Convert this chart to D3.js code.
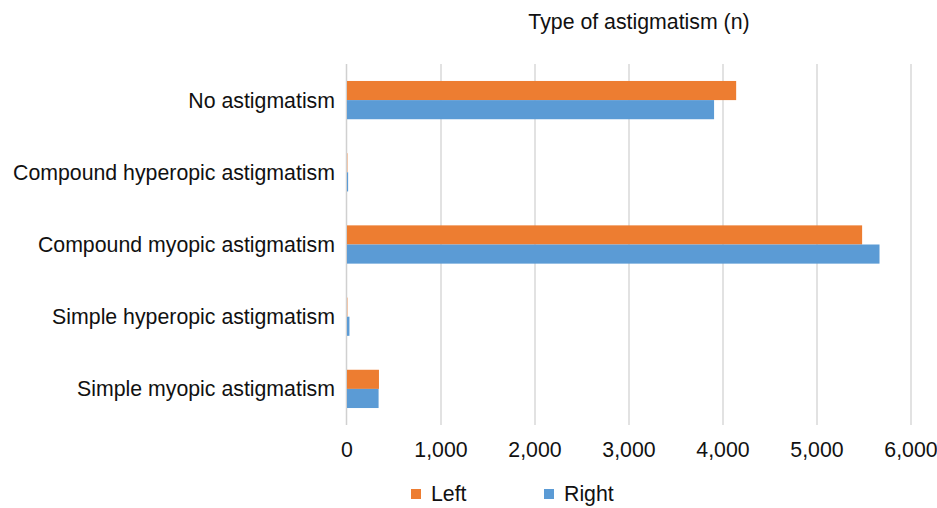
<!DOCTYPE html>
<html>
<head>
<meta charset="utf-8">
<script src="https://cdn.jsdelivr.net/npm/d3@7"></script>
<style>
  html, body { margin: 0; padding: 0; background: #fff; }
  svg { display: block; font-family: "Liberation Sans", Arial, sans-serif; }
</style>
</head>
<body>
<svg id="chart" width="937" height="508"></svg>
<script>
const categories = [
  "No astigmatism",
  "Compound hyperopic astigmatism",
  "Compound myopic astigmatism",
  "Simple hyperopic astigmatism",
  "Simple myopic astigmatism"
];
const seriesNames = ["Left", "Right"];
const leftValues  = [4140, 4, 5480, 4, 340];
const rightValues = [3905, 12, 5665, 26, 336];
const xTicks = [0, 1000, 2000, 3000, 4000, 5000, 6000];
const title = "Type of astigmatism (n)";
const colors = { Left: "#ED7D31", Right: "#5B9BD5" };

const svg = d3.select("#chart");
const x = d3.scaleLinear().domain([0, 6000]).range([347, 911]);
const y = d3.scaleBand().domain(categories).range([64, 425]).paddingInner(0.47).paddingOuter(0.235);
const inner = d3.scaleBand().domain(seriesNames).range([0, y.bandwidth()]);
const fs = 21.3;
const txt = "#111";

// gridlines
svg.append("g").selectAll("line").data(xTicks.slice(1)).join("line")
  .attr("x1", d => x(d)).attr("x2", d => x(d))
  .attr("y1", 64).attr("y2", 425)
  .attr("stroke", "#D9D9D9").attr("stroke-width", 1.5);

// vertical axis line
svg.append("line")
  .attr("x1", x(0) - 0.5).attr("x2", x(0) - 0.5)
  .attr("y1", 64).attr("y2", 425)
  .attr("stroke", "#D0D0D0").attr("stroke-width", 1.5);

// bars
const data = categories.map((c, i) => ({ cat: c, Left: leftValues[i], Right: rightValues[i] }));
const groups = svg.append("g").selectAll("g").data(data).join("g")
  .attr("transform", d => `translate(0,${y(d.cat)})`);
groups.selectAll("rect").data(d => seriesNames.map(s => ({ s, v: d[s] }))).join("rect")
  .attr("x", x(0))
  .attr("y", d => inner(d.s))
  .attr("width", d => Math.max(0, x(d.v) - x(0)))
  .attr("height", inner.bandwidth())
  .attr("fill", d => colors[d.s]);

// category labels
svg.append("g").selectAll("text").data(categories).join("text")
  .attr("x", 335)
  .attr("y", d => y(d) + y.bandwidth() / 2)
  .attr("dy", "0.35em")
  .attr("text-anchor", "end")
  .attr("font-size", fs)
  .attr("fill", txt)
  .text(d => d);

// x tick labels
svg.append("g").selectAll("text").data(xTicks).join("text")
  .attr("x", d => x(d))
  .attr("y", 457)
  .attr("text-anchor", "middle")
  .attr("font-size", fs)
  .attr("fill", txt)
  .text(d => d3.format(",")(d));

// title
svg.append("text")
  .attr("x", 639).attr("y", 29)
  .attr("text-anchor", "middle")
  .attr("font-size", fs)
  .attr("fill", txt)
  .text(title);

// legend
const legendX = { Left: 411, Right: 544 };
const lg = svg.append("g").selectAll("g").data(seriesNames).join("g")
  .attr("transform", d => `translate(${legendX[d]},489)`);
lg.append("rect").attr("width", 10).attr("height", 10).attr("fill", d => colors[d]);
lg.append("text").attr("x", 20).attr("y", 12)
  .attr("font-size", fs).attr("fill", txt).text(d => d);
</script>
</body>
</html>
